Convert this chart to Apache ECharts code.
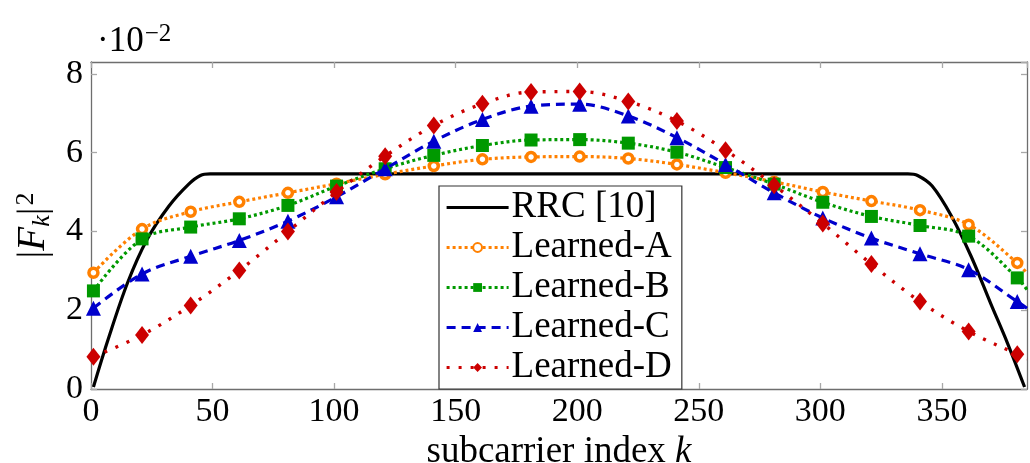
<!DOCTYPE html>
<html>
<head>
<meta charset="utf-8">
<script src="https://cdn.jsdelivr.net/npm/echarts@6/dist/echarts.min.js"></script>
<style>
  html, body { margin: 0; padding: 0; background: #fff; }
  #main { width: 1030px; height: 463px; }
</style>
</head>
<body>
<div id="main"></div>
<script>
// subcarrier indices where markers are drawn
const markK = [1, 21, 41, 61, 81, 101, 121, 141, 161, 181, 201, 221, 241, 261, 281, 301, 321, 341, 361, 381]
const endK = 385

// |F_k|^2 values (x 10^-2)
const learnedA = [2.95, 4.06, 4.50, 4.75, 4.98, 5.21, 5.45, 5.66, 5.83, 5.89, 5.90, 5.85, 5.70, 5.49, 5.26, 5.00, 4.77, 4.54, 4.17, 3.20]
const learnedB = [2.49, 3.81, 4.11, 4.32, 4.66, 5.15, 5.59, 5.93, 6.18, 6.32, 6.33, 6.24, 6.01, 5.62, 5.20, 4.74, 4.38, 4.15, 3.88, 2.82]
const learnedC = [2.05, 2.92, 3.37, 3.77, 4.26, 4.88, 5.59, 6.29, 6.84, 7.18, 7.23, 6.93, 6.38, 5.70, 4.98, 4.34, 3.83, 3.43, 3.03, 2.22]
const learnedD = [0.82, 1.37, 2.12, 3.01, 4.00, 5.00, 5.91, 6.69, 7.24, 7.54, 7.55, 7.30, 6.80, 6.06, 5.17, 4.20, 3.17, 2.22, 1.46, 0.88]
// value where each learned curve leaves the right edge
const endValues = [2.94, 2.52, 2.05, 0.76]

// RRC curve, points
const rrcK = [1, 7, 15, 23, 32, 40, 45, 49, 192, 336, 340, 346, 354, 362, 370, 377, 384]
const rrcV = [0.05, 1.25, 2.69, 3.79, 4.64, 5.19, 5.42, 5.46, 5.46, 5.46, 5.42, 5.15, 4.38, 3.37, 2.18, 1.16, 0.05]

const xTicks = [0, 50, 100, 150, 200, 250, 300, 350]
const yTicks = [0, 2, 4, 6, 8]

const FONT = 'Liberation Serif'

const chartInstance = echarts.init(document.getElementById('main'))

function learnedData (vals, endV) {
  const arr = vals.map((v, i) => [markK[i], v])
  arr.push({ value: [endK, endV], symbol: 'none' })
  return arr
}

const axisBase = {
  type: 'value',
  axisLine: { show: true, onZero: false, lineStyle: { color: '#6e6e6e', width: 1.3 } },
  axisTick: { show: true, inside: true, length: 6, lineStyle: { color: '#a8a8a8', width: 1.3 } },
  splitLine: { show: false }
}

const option = {
  animation: false,
  backgroundColor: '#fff',
  grid: { left: 91, right: 3, top: 62, bottom: 74, containLabel: false, outerBoundsMode: 'none' },
  xAxis: [
    Object.assign({}, axisBase, {
      min: 0,
      max: endK,
      interval: 50,
      position: 'bottom',
      name: '{t|subcarrier index }{i|k}',
      nameLocation: 'middle',
      nameGap: 36,
      nameTextStyle: {
        rich: {
          t: { fontFamily: FONT, fontSize: 37, color: '#000' },
          i: { fontFamily: FONT, fontSize: 37, fontStyle: 'italic', color: '#000' }
        }
      },
      axisLabel: {
        fontFamily: FONT,
        fontSize: 34,
        color: '#000',
        margin: 6,
        showMaxLabel: false,
        formatter: v => (xTicks.indexOf(v) >= 0 ? String(v) : '')
      }
    }),
    Object.assign({}, axisBase, {
      min: 0,
      max: endK,
      interval: 50,
      position: 'top',
      axisLabel: { show: false }
    })
  ],
  yAxis: [
    Object.assign({}, axisBase, {
      min: 0,
      max: 8.3,
      interval: 2,
      position: 'left',
      name: '{a||}{f|F}{s|k}{a||}{p|2}',
      nameLocation: 'middle',
      nameRotate: 90,
      nameGap: 36,
      nameTextStyle: {
        rich: {
          a: { fontFamily: FONT, fontSize: 39, color: '#000' },
          f: { fontFamily: FONT, fontSize: 39, fontStyle: 'italic', color: '#000' },
          s: { fontFamily: FONT, fontSize: 26, fontStyle: 'italic', color: '#000', verticalAlign: 'bottom', padding: [16, 0, 0, 0] },
          p: { fontFamily: FONT, fontSize: 26, color: '#000', verticalAlign: 'top', padding: [0, 0, 16, 2] }
        }
      },
      axisLabel: {
        fontFamily: FONT,
        fontSize: 34,
        color: '#000',
        margin: 8,
        showMaxLabel: false,
        formatter: v => (yTicks.indexOf(v) >= 0 ? String(v) : '')
      }
    }),
    Object.assign({}, axisBase, {
      min: 0,
      max: 8.3,
      interval: 2,
      position: 'right',
      axisLabel: { show: false }
    })
  ],
  graphic: [
    {
      // scale factor above the y axis
      type: 'text',
      left: 97,
      top: 22,
      style: {
        text: '{d|·}{t|10}{e|−2}',
        rich: {
          d: { fontFamily: FONT, fontSize: 35, fill: '#000' },
          t: { fontFamily: FONT, fontSize: 35, fill: '#000' },
          e: { fontFamily: FONT, fontSize: 25, fill: '#000', verticalAlign: 'top', padding: [0, 0, 14, 1] }
        }
      }
    }
  ],
  legend: {
    orient: 'vertical',
    left: 439,
    top: 186,
    width: 241,
    padding: [3, 10, 3, 6],
    itemGap: 3,
    itemWidth: 62,
    itemHeight: 11,
    backgroundColor: '#fff',
    borderColor: '#333',
    borderWidth: 1.2,
    borderRadius: 0,
    lineStyle: { width: 3.2 },
    textStyle: { fontFamily: FONT, fontSize: 37, color: '#000', padding: [0, 0, 0, -2] },
    data: [
      { name: 'RRC [10]', itemStyle: { opacity: 0 } },
      'Learned-A', 'Learned-B', 'Learned-C', 'Learned-D'
    ]
  },
  series: [
    {
      name: 'RRC [10]',
      type: 'line',
      data: rrcK.map((k, i) => [k, rrcV[i]]),
      smooth: 0.35,
      showSymbol: false,
      symbol: 'none',
      lineStyle: { color: '#000', width: 3.2 },
      itemStyle: { color: '#000' },
      z: 2
    },
    {
      name: 'Learned-A',
      type: 'line',
      data: learnedData(learnedA, endValues[0]),
      smooth: 0.35,
      symbol: 'circle',
      symbolSize: 9,
      lineStyle: { color: '#ff8000', width: 3.2, type: [3, 3] },
      itemStyle: { color: '#fff', borderColor: '#ff8000', borderWidth: 3.5 },
      z: 3
    },
    {
      name: 'Learned-B',
      type: 'line',
      data: learnedData(learnedB, endValues[1]),
      smooth: 0.35,
      symbol: 'rect',
      symbolSize: 13,
      lineStyle: { color: '#009900', width: 3.2, type: [3, 3] },
      itemStyle: { color: '#009900' },
      z: 4
    },
    {
      name: 'Learned-C',
      type: 'line',
      data: learnedData(learnedC, endValues[2]),
      smooth: 0.35,
      symbol: 'triangle',
      symbolSize: 15,
      lineStyle: { color: '#0000cc', width: 3.2, type: [9, 6] },
      itemStyle: { color: '#0000cc' },
      z: 5
    },
    {
      name: 'Learned-D',
      type: 'line',
      data: learnedData(learnedD, endValues[3]),
      smooth: 0.35,
      symbol: 'diamond',
      symbolSize: [14, 18],
      lineStyle: { color: '#cc0000', width: 3.4, type: [3, 9] },
      itemStyle: { color: '#cc0000' },
      z: 6
    }
  ]
}

chartInstance.setOption(option)
</script>
</body>
</html>
